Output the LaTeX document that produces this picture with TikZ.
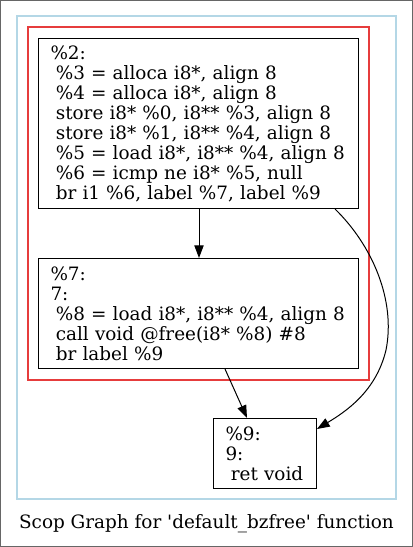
\documentclass[tikz,border=0pt]{standalone}
\usepackage{fontspec}
\setmainfont{DejaVu Serif}
\usetikzlibrary{arrows.meta}
\definecolor{clusterblue}{RGB}{180,215,230}
\definecolor{regionred}{RGB}{230,60,60}
\newcommand{\ind}{\hspace*{4pt}}
\tikzset{
  bb/.style={draw, line width=0.75pt, anchor=north west, align=left, inner xsep=9pt, inner ysep=0pt,
    font=\fontsize{13.8}{15}\selectfont},
  flow/.style={-{Triangle[length=9.5pt,width=7pt]}, line width=0.75pt}
}
\begin{document}
\begin{tikzpicture}[x=0.75pt,y=-0.75pt]
\useasboundingbox (0,0) rectangle (413,547);
\draw[gray!80!black, line width=0.75pt] (0.5,0.5) rectangle (412.5,546.5);
\draw[clusterblue, line width=1pt] (17,16) rectangle (396,499);
\draw[regionred, line width=1pt] (28,27) rectangle (369,380);
\node[bb, minimum width=240pt, minimum height=127.5pt, text width=222pt] (n2) at (38,38)
  {\%2:\\\ind\%3 = alloca i8*, align 8\\\ind\%4 = alloca i8*, align 8\\\ind store i8* \%0, i8** \%3, align 8\\\ind store i8* \%1, i8** \%4, align 8\\\ind\%5 = load i8*, i8** \%4, align 8\\\ind\%6 = icmp ne i8* \%5, null\\\ind br i1 \%6, label \%7, label \%9};
\node[bb, minimum width=240pt, minimum height=82.5pt, text width=222pt] (n7) at (38,258)
  {\%7:\\7:\\\ind\%8 = load i8*, i8** \%4, align 8\\\ind call void @free(i8* \%8) \#8\\\ind br label \%9};
\node[bb, minimum width=77.25pt, minimum height=52.5pt, text width=59.25pt] (n9) at (213,418)
  {\%9:\\9:\\\ind ret void};
\draw[flow] (n2.south -| 199,0) -- (n7.north -| 199,0);
\draw[flow] (n7.south -| 225,0) -- (n9.north -| 247,0);
\draw[flow] (n2.south -| 335,0) .. controls (372,245) and (396,300) .. (386,350) .. controls (376,392) and (345,412) .. (n9.east |- 0,429);
\node[font=\fontsize{13.8}{15}\selectfont] (cap) at (206.5,524) {Scop Graph for \textquotesingle default\_bzfree\textquotesingle\ function};
\end{tikzpicture}
\end{document}
